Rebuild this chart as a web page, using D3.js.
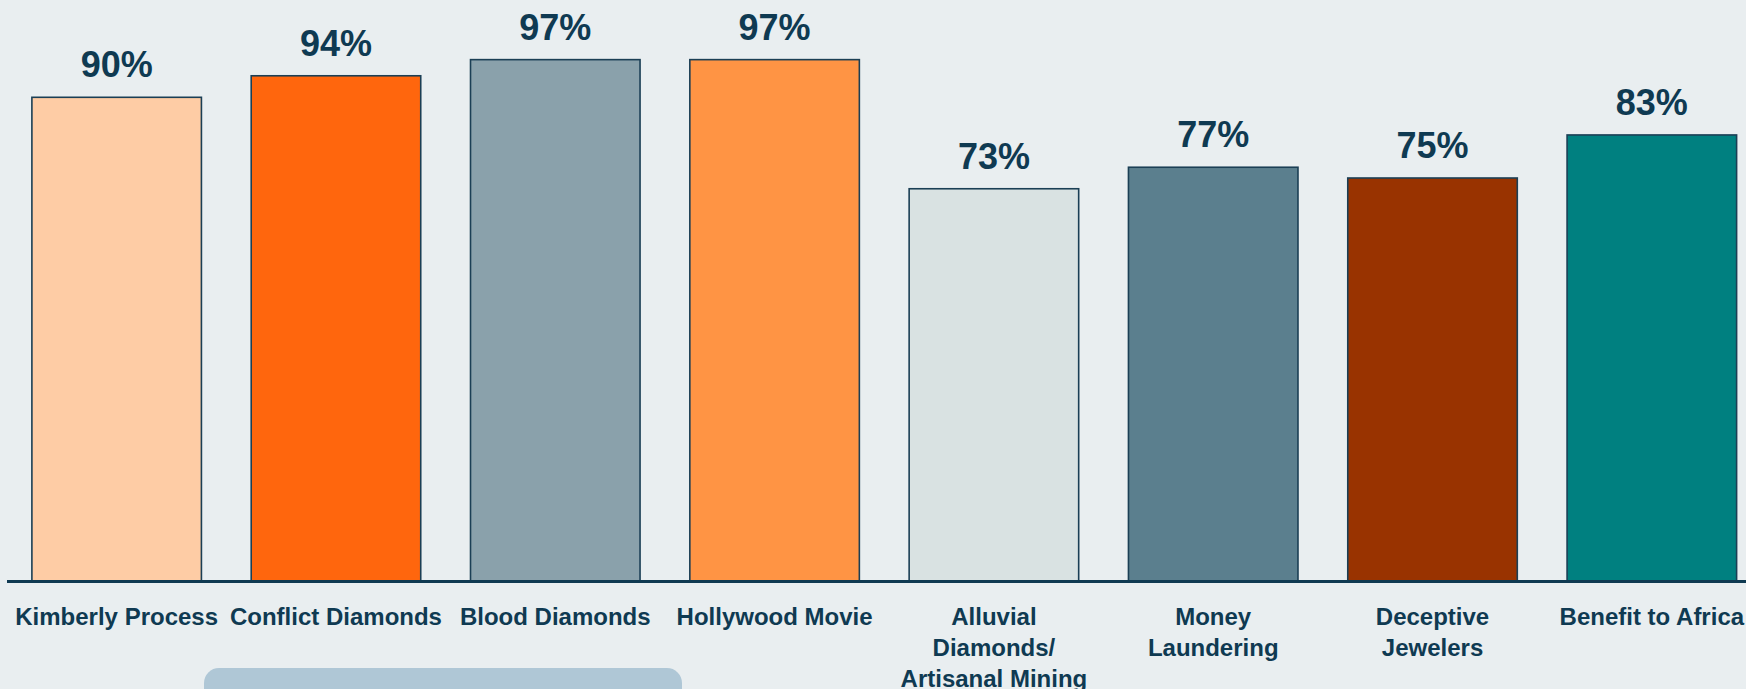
<!DOCTYPE html>
<html>
<head>
<meta charset="utf-8">
<script src="https://cdn.jsdelivr.net/npm/d3@7"></script>
<style>
  html, body { margin: 0; padding: 0; background: #e9eef0; }
  svg { display: block; }
</style>
</head>
<body>
<svg id="chart" width="1746" height="689"></svg>
<script>
// Awareness of diamond-industry topics (% of respondents)
const categories = [
  "Kimberly Process", "Conflict Diamonds", "Blood Diamonds", "Hollywood Movie",
  "Alluvial Diamonds/ Artisanal Mining", "Money Laundering", "Deceptive Jewelers", "Benefit to Africa"
];
// Line breaks used for the category labels
const labelLines = [
  ["Kimberly Process"], ["Conflict Diamonds"], ["Blood Diamonds"], ["Hollywood Movie"],
  ["Alluvial", "Diamonds/", "Artisanal Mining"], ["Money", "Laundering"], ["Deceptive", "Jewelers"], ["Benefit to Africa"]
];
const values = [90, 94, 97, 97, 73, 77, 75, 83];
const colors = ["#fecca5", "#ff660d", "#8aa1ab", "#ff9444", "#d9e2e2", "#5b7f8e", "#993300", "#008080"];

const W = 1746, H = 689;
const ink = "#0f3a52";
const svg = d3.select("#chart");

svg.append("rect").attr("width", W).attr("height", H).attr("fill", "#e9eef0");

const x = d3.scaleBand()
  .domain(categories)
  .range([7, 1761.5])
  .paddingInner(0.227)
  .paddingOuter(0.1135);

const y = d3.scaleLinear().domain([0, 100]).range([581.5, 43.5]);

// Bars
svg.append("g").selectAll("rect")
  .data(values)
  .join("rect")
  .attr("x", (d, i) => x(categories[i]))
  .attr("y", d => y(d))
  .attr("width", x.bandwidth())
  .attr("height", d => y(0) - y(d))
  .attr("fill", (d, i) => colors[i])
  .attr("stroke", "#1b3f55")
  .attr("stroke-width", 1.6);

// Baseline
svg.append("line")
  .attr("x1", x.range()[0]).attr("x2", W)
  .attr("y1", y(0)).attr("y2", y(0))
  .attr("stroke", "#0f3a52").attr("stroke-width", 3);

// Value labels
svg.append("g").selectAll("text")
  .data(values)
  .join("text")
  .attr("x", (d, i) => x(categories[i]) + x.bandwidth() / 2)
  .attr("y", d => y(d) - 20)
  .attr("text-anchor", "middle")
  .attr("font-family", "'Liberation Sans', Arial, sans-serif")
  .attr("font-weight", "bold")
  .attr("font-size", 36)
  .attr("fill", ink)
  .text(d => d + "%");

// Category labels
const cat = svg.append("g").selectAll("text")
  .data(categories)
  .join("text")
  .attr("x", d => x(d) + x.bandwidth() / 2)
  .attr("y", 625)
  .attr("text-anchor", "middle")
  .attr("font-family", "'Liberation Sans', Arial, sans-serif")
  .attr("font-weight", "bold")
  .attr("font-size", 24)
  .attr("fill", ink);

cat.selectAll("tspan")
  .data((d, i) => labelLines[i])
  .join("tspan")
  .attr("x", function () { return this.parentNode.getAttribute("x"); })
  .attr("dy", (d, j) => j === 0 ? 0 : 31.2)
  .text(d => d);

// Rounded panel peeking in at the bottom edge
svg.append("rect")
  .attr("x", 204).attr("y", 668)
  .attr("width", 478).attr("height", 60)
  .attr("rx", 15).attr("ry", 15)
  .attr("fill", "#afc7d6");
</script>
</body>
</html>
